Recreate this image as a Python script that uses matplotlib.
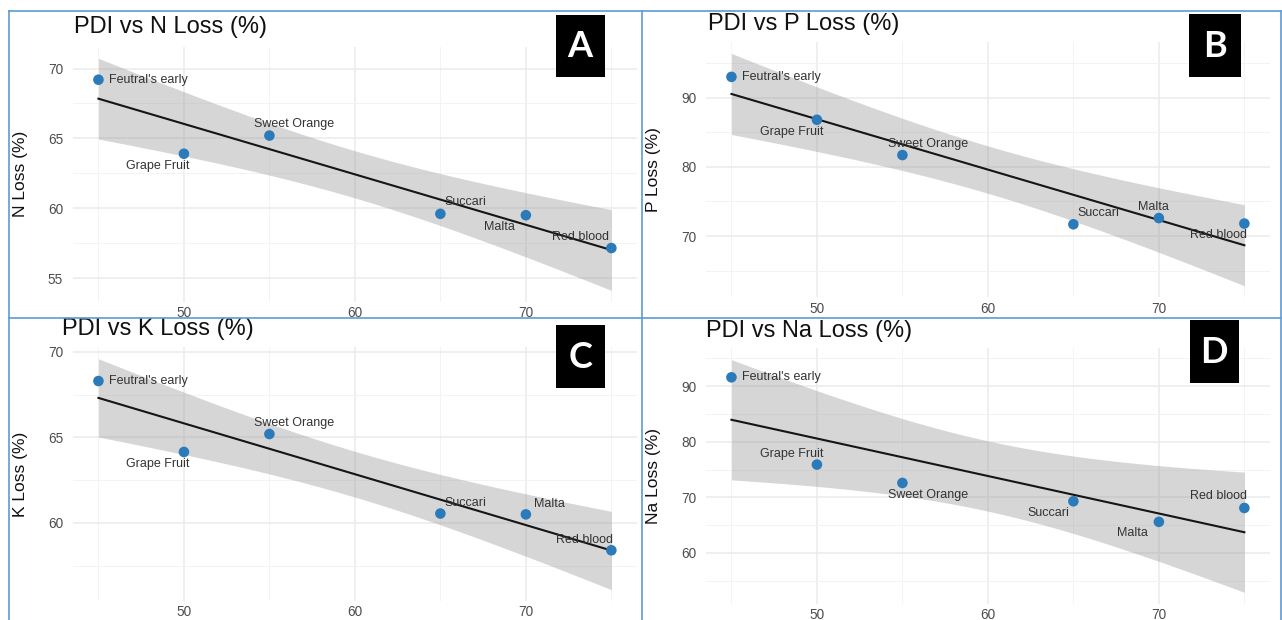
import numpy as np
import matplotlib
matplotlib.use("Agg")
import matplotlib.pyplot as plt
from matplotlib.lines import Line2D
from matplotlib.patches import Rectangle

# ---------------- data ----------------
pdi = [45, 50, 55, 65, 70, 75]
varieties = ["Feutral's early", "Grape Fruit", "Sweet Orange", "Succari", "Malta", "Red blood"]
n_loss = [69.2, 63.9, 65.2, 59.6, 59.5, 57.15]
p_loss = [93.0, 86.8, 81.7, 71.7, 72.6, 71.8]
k_loss = [68.3, 64.15, 65.2, 60.55, 60.5, 58.4]
na_loss = [91.6, 75.9, 72.6, 69.3, 65.6, 68.1]

titles = ["PDI vs N Loss (%)", "PDI vs P Loss (%)", "PDI vs K Loss (%)", "PDI vs Na Loss (%)"]
ylabels = ["N Loss (%)", "P Loss (%)", "K Loss (%)", "Na Loss (%)"]
letters = ["A", "B", "C", "D"]
x_ticks = [50, 60, 70]
y_ticks = [[55, 60, 65, 70], [70, 80, 90], [60, 65, 70], [60, 70, 80, 90]]

T_CRIT = 2.776445  # t quantile (0.975, df = 4) used by lm confidence band

# ---------------- layout (pixels) ----------------
W, H = 1282, 620
fig = plt.figure(figsize=(W / 100, H / 100), dpi=100)
fig.patch.set_facecolor("white")


def frect(l, t, w, h):
    return [l / W, 1 - (t + h) / H, w / W, h / H]


axes_px = [(72.8, 46.7, 564.2, 255.3),
           (705.8, 41.8, 564.2, 255.6),
           (72.8, 347.2, 564.2, 254.0),
           (705.8, 348.0, 564.2, 256.0)]
title_px = [(73.5, 33.0), (707.5, 30.0), (62.0, 335.5), (706.5, 336.5)]
box_px = [(556, 15, 48.5, 61.7), (1189.3, 14.3, 51.4, 62.4),
          (556, 325, 48.5, 63.3), (1189.5, 320, 49.5, 62.7)]

# label offsets in pixels (dx right, dy down), ha
offsets = [
    [(11, 0, "left"), (-26, 12, "center"), (25, -11.5, "center"), (25, -11.5, "center"), (-26, 12, "center"), (-31, -11, "center")],
    [(11, 0, "left"), (-25, 12, "center"), (26, -11, "center"), (25, -11.7, "center"), (-5, -11, "center"), (-25.5, 11.6, "center")],
    [(11, 0, "left"), (-25.7, 12, "center"), (25, -11.3, "center"), (25, -11, "center"), (24, -10.7, "center"), (-27, -10.7, "center")],
    [(11, 0, "left"), (-25, -11, "center"), (26, 11.6, "center"), (-25, 11.7, "center"), (-26, 11.4, "center"), (-25.5, -11.7, "center")],
]

series = [n_loss, p_loss, k_loss, na_loss]
FONT = "Liberation Sans"

for i in range(4):
    ax = fig.add_axes(frect(*axes_px[i]))
    x = np.array(pdi, dtype=float)
    y = np.array(series[i], dtype=float)
    n = len(x)
    b, a = np.polyfit(x, y, 1)
    xs = np.linspace(x.min(), x.max(), 80)
    fit = a + b * xs
    resid = y - (a + b * x)
    s = np.sqrt(np.sum(resid ** 2) / (n - 2))
    sxx = np.sum((x - x.mean()) ** 2)
    se = s * np.sqrt(1 / n + (xs - x.mean()) ** 2 / sxx)
    lo, hi = fit - T_CRIT * se, fit + T_CRIT * se

    ax.fill_between(xs, lo, hi, color="#999999", alpha=0.4, lw=0, zorder=2)
    ax.plot(xs, fit, color="#151515", lw=1.5, zorder=3)
    ax.scatter(x, y, s=58, color="#2b7bba", edgecolors="none", zorder=4)

    ymin = min(lo.min(), y.min())
    ymax = max(hi.max(), y.max())
    pad = 0.05 * (ymax - ymin)
    ax.set_xlim(43.5, 76.5)

    ax.set_xticks(x_ticks)
    ax.set_xticks([45, 55, 65, 75], minor=True)
    yt = y_ticks[i]
    step = yt[1] - yt[0]
    ax.set_yticks(yt)
    ax.set_yticks([yt[0] - step / 2] + [t + step / 2 for t in yt], minor=True)
    ax.set_ylim(ymin - pad, ymax + pad)

    ax.grid(which="major", color="#EBEBEB", lw=1.1, zorder=0)
    ax.grid(which="minor", color="#F3F3F3", lw=0.7, zorder=0)
    ax.set_axisbelow(True)
    ax.tick_params(which="both", length=0)
    ax.tick_params(axis="y", pad=7, labelsize=9.8, labelcolor="#4D4D4D")
    ax.tick_params(axis="x", pad=3, labelsize=9.8, labelcolor="#4D4D4D")
    for lab in ax.get_xticklabels() + ax.get_yticklabels():
        lab.set_fontfamily(FONT)
    for sp in ax.spines.values():
        sp.set_visible(False)
    ax.set_facecolor("none")

    ax.set_ylabel(ylabels[i], fontsize=12.5, family=FONT, color="#111111")
    ax.yaxis.set_label_coords(-44.8 / axes_px[i][2], 0.5)

    for j, name in enumerate(varieties):
        dx, dy, ha = offsets[i][j]
        ax.annotate(name, xy=(x[j], y[j]), xytext=(dx, -dy), textcoords="offset pixels",
                    ha=ha, va="center", fontsize=9, family=FONT, color="#333333", zorder=5)

    tx, ty = title_px[i]
    fig.text(tx / W, 1 - ty / H, titles[i], fontsize=17, family=FONT, color="#111111",
             va="baseline", ha="left")

    bl, bt, bw, bh = box_px[i]
    fig.add_artist(Rectangle((bl / W, 1 - (bt + bh) / H), bw / W, bh / H,
                             transform=fig.transFigure, facecolor="black", edgecolor="none", zorder=10))
    fig.text((bl + bw / 2) / W, 1 - (bt + bh / 2 + 1) / H, letters[i], fontsize=26, family="Lato",
             fontweight="bold", color="white", ha="center", va="center", zorder=11)

# panel borders
bc = "#5B9BD5"
lines = [((8.5, 1280.5), (11, 11)),
         ((8.5, 1281), (317.5, 317.5)),
         ((9, 9), (11, 620)),
         ((642, 642), (11, 620)),
         ((1280.5, 1280.5), (11, 620))]
for xs_, ys_ in lines:
    fig.add_artist(Line2D([v / W for v in xs_], [1 - v / H for v in ys_],
                          transform=fig.transFigure, color=bc, lw=1.2, zorder=12))

fig.savefig("out.png", dpi=100, facecolor="white")
